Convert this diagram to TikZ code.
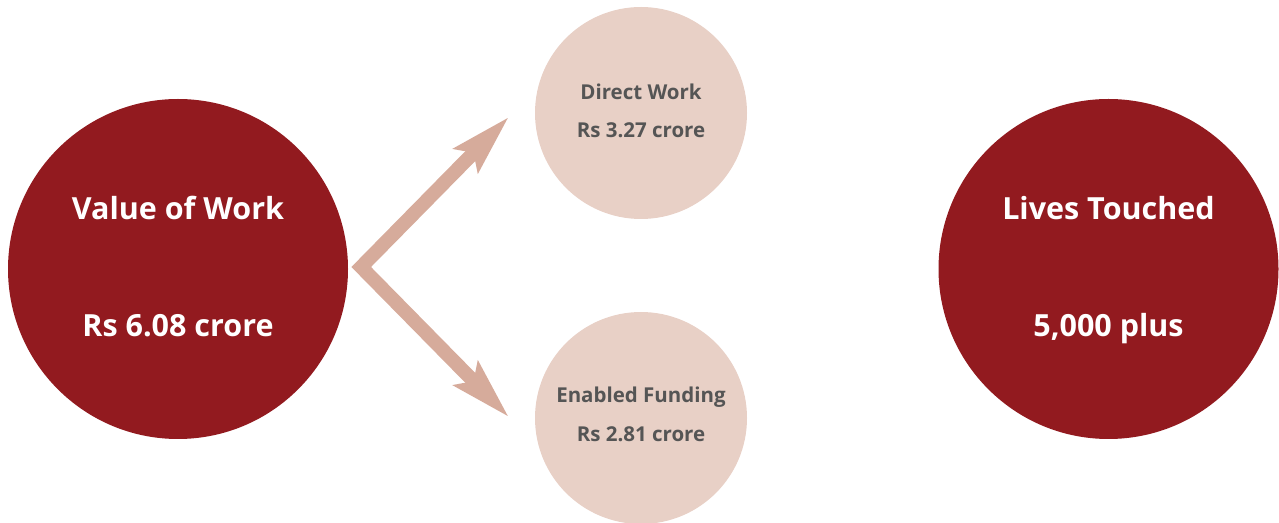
\documentclass[tikz,border=0pt]{standalone}
\usepackage{fontspec}
\setmainfont{Open Sans}
\usepackage{tikz}
\usetikzlibrary{arrows.meta}
\usetikzlibrary{shapes}

\definecolor{darkred}{HTML}{921A1F}
\definecolor{palepink}{HTML}{E8D0C6}
\definecolor{arrowpink}{HTML}{D6AB9B}
\definecolor{textgray}{HTML}{555555}

\tikzset{
	bigdot/.style={circle, fill=darkred, minimum size=340pt, inner sep=0pt},
	smalldot/.style={circle, fill=palepink, minimum size=212pt, inner sep=0pt},
	bigtxt/.style={anchor=base, text=white, font=\fontsize{30.5}{36}\selectfont\bfseries},
	smalltxt/.style={anchor=base, text=textgray, font=\fontsize{20.5}{24}\selectfont\bfseries},
	forkarrow/.style={arrowpink, line width=14pt, miter limit=10,
		{Stealth[length=60pt, width=33pt, inset=10pt]}-{Stealth[length=60pt, width=33pt, inset=10pt]}}
}

\begin{document}
\begin{tikzpicture}[x=1pt, y=1pt]
\useasboundingbox (0,0) rectangle (1279,522);

\node[bigdot] (value) at (178,253) {};
\node[bigdot] (lives) at (1108.5,253) {};
\node[smalldot] (direct) at (641,409) {};
\node[smalldot] (funding) at (641,104) {};

\node[bigtxt] (valuetitle) at (178,302) {Value of Work};
\node[bigtxt] (valueamount) at (178,185) {Rs 6.08 crore};
\node[bigtxt] (livestitle) at (1108.5,302) {Lives Touched};
\node[bigtxt] (livesamount) at (1108.5,185) {5,000 plus};

\node[smalltxt] (directtitle) at (641,422) {Direct Work};
\node[smalltxt] (directamount) at (641,384) {Rs 3.27 crore};
\node[smalltxt] (fundingtitle) at (641,119) {Enabled Funding};
\node[smalltxt] (fundingamount) at (641,80) {Rs 2.81 crore};

\coordinate (fork) at ([xshift=13pt, yshift=2pt]value.east);
\draw[forkarrow] ([shift={(-26pt,-4pt)}]direct.west) -- (fork) -- ([shift={(-26pt,1pt)}]funding.west);
\end{tikzpicture}
\end{document}
